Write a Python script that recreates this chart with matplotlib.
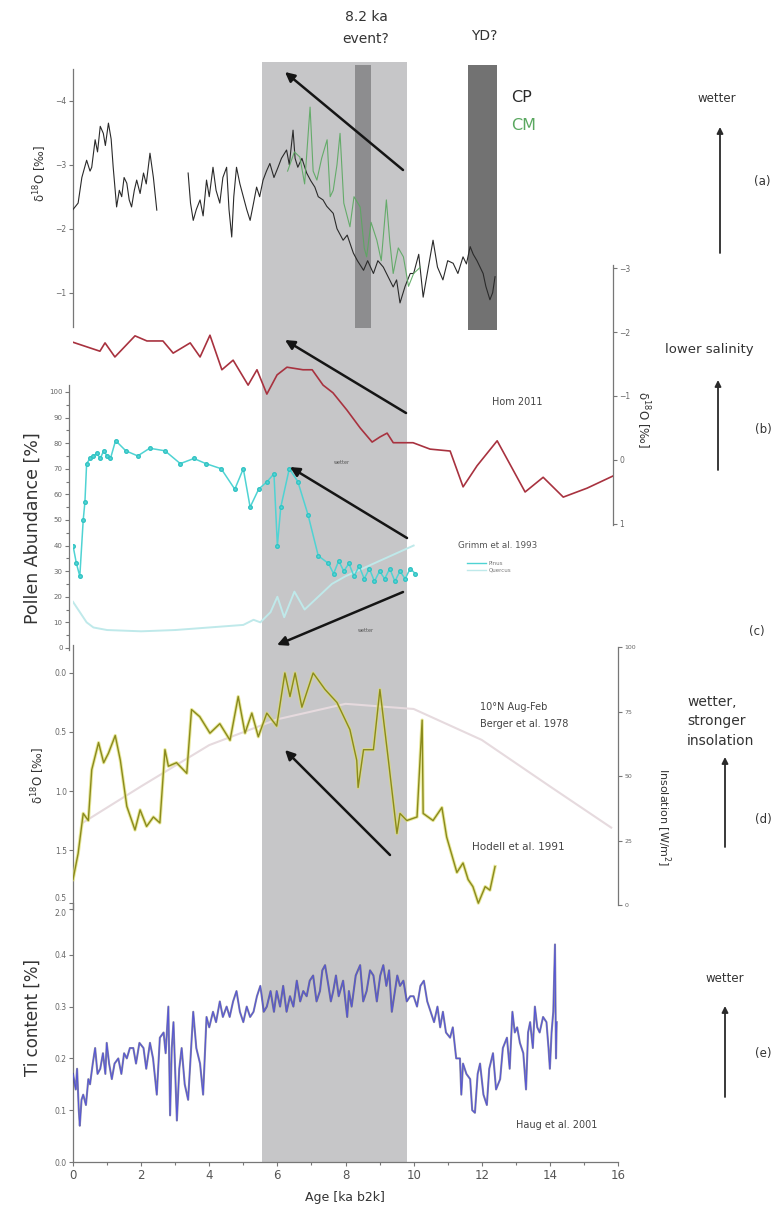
import matplotlib
matplotlib.use('Agg')
import matplotlib.pyplot as plt
import matplotlib.patheffects as pe
from matplotlib.lines import Line2D
import numpy as np

# ---------------- data ----------------
# (a) speleothem d18O
cp_age = [0.0, 0.15, 0.26, 0.4, 0.5, 0.55, 0.65, 0.72, 0.8, 0.89, 0.95, 1.04, 1.12, 1.18, 1.28, 1.36, 1.43, 1.5,
          1.58, 1.65, 1.72, 1.8, 1.87, 1.97, 2.07, 2.15, 2.26, 2.36, 2.46, 2.9,
          3.38, 3.45, 3.53, 3.62, 3.73, 3.82, 3.92, 4.0, 4.11, 4.2, 4.31, 4.4, 4.51, 4.58, 4.66, 4.72, 4.8, 4.9,
          5.0, 5.1, 5.2, 5.3, 5.39, 5.48, 5.58, 5.68, 5.78, 5.9, 6.02, 6.12, 6.27, 6.35, 6.46, 6.52, 6.6, 6.72,
          6.86, 6.98, 7.1, 7.2, 7.34, 7.45, 7.64, 7.75, 7.93, 8.05, 8.23, 8.35, 8.53, 8.65, 8.82, 8.95, 9.11,
          9.25, 9.4, 9.5, 9.6, 9.75, 9.9, 10.0, 10.15, 10.28, 10.4, 10.57, 10.7, 10.86, 11.0, 11.16, 11.3,
          11.45, 11.55, 11.66, 11.75, 11.86, 11.95, 12.04, 12.12, 12.24, 12.32, 12.39]
cp_d18o = [-2.3, -2.4, -2.8, -3.07, -2.9, -2.96, -3.39, -3.2, -3.6, -3.49, -3.3, -3.65, -3.4, -2.96, -2.34, -2.6,
           -2.5, -2.8, -2.71, -2.45, -2.34, -2.6, -2.76, -2.55, -2.87, -2.7, -3.18, -2.8, -2.29, np.nan,
           -2.87, -2.4, -2.13, -2.3, -2.45, -2.2, -2.76, -2.5, -2.96, -2.6, -2.4, -2.8, -2.96, -2.3, -1.87,
           -2.5, -2.96, -2.7, -2.5, -2.3, -2.13, -2.4, -2.65, -2.5, -2.76, -2.9, -3.02, -2.8, -2.96, -3.1,
           -3.23, -3.0, -3.54, -3.1, -2.96, -3.1, -2.87, -2.75, -2.65, -2.5, -2.45, -2.35, -2.24, -2.0, -1.82,
           -1.9, -1.62, -1.5, -1.35, -1.5, -1.3, -1.5, -1.4, -1.25, -1.09, -1.2, -0.84, -1.1, -1.3, -1.3, -1.6,
           -0.93, -1.3, -1.82, -1.4, -1.2, -1.5, -1.46, -1.3, -1.56, -1.45, -1.72, -1.6, -1.5, -1.4, -1.3,
           -1.1, -0.89, -1.0, -1.25]
cm_age = [6.3, 6.5, 6.66, 6.8, 6.96, 7.05, 7.16, 7.3, 7.46, 7.55, 7.64, 7.75, 7.84, 7.95, 8.13, 8.25, 8.43, 8.55,
          8.62, 8.75, 8.92, 9.05, 9.2, 9.3, 9.4, 9.55, 9.7, 9.85, 10.0, 10.2]
cm_d18o = [-2.9, -3.2, -3.12, -2.7, -3.9, -2.9, -2.76, -3.1, -3.39, -2.5, -2.6, -3.0, -3.49, -2.4, -2.03, -2.5,
           -2.34, -1.7, -1.56, -2.1, -1.82, -1.5, -2.45, -1.8, -1.3, -1.7, -1.56, -1.1, -1.3, -1.4]

# (b) Horn 2011
horn_age = [0.0, 0.79, 0.94, 1.23, 1.82, 2.17, 2.64, 2.94, 3.44, 3.73, 4.02, 4.37, 4.70, 5.14, 5.40, 5.69, 5.99,
            6.28, 6.75, 7.02, 7.34, 7.63, 8.04, 8.43, 8.78, 9.01, 9.22, 9.40, 9.98, 10.48, 11.07, 11.45, 11.86,
            12.45, 13.27, 13.80, 14.39, 15.09, 15.85]
horn_d18o = [-1.84, -1.70, -1.83, -1.61, -1.94, -1.86, -1.86, -1.67, -1.83, -1.61, -1.95, -1.41, -1.56, -1.17,
             -1.41, -1.03, -1.33, -1.45, -1.41, -1.41, -1.17, -1.05, -0.78, -0.50, -0.28, -0.36, -0.42, -0.27,
             -0.27, -0.17, -0.14, 0.42, 0.09, -0.30, 0.50, 0.27, 0.58, 0.44, 0.25]

# (c) Grimm et al. 1993 pollen
pinus_age = [0.0, 0.1, 0.2, 0.3, 0.35, 0.4, 0.5, 0.6, 0.7, 0.8, 0.9, 1.0, 1.1, 1.25, 1.55, 1.9, 2.25, 2.7, 3.15,
             3.55, 3.9, 4.35, 4.75, 5.0, 5.2, 5.45, 5.7, 5.9, 6.0, 6.1, 6.35, 6.6, 6.9, 7.2, 7.5, 7.65, 7.8, 7.95,
             8.1, 8.25, 8.4, 8.55, 8.7, 8.85, 9.0, 9.15, 9.3, 9.45, 9.6, 9.75, 9.9, 10.05]
pinus_pct = [40, 33, 28, 50, 57, 72, 74, 75, 76, 74, 77, 75, 74, 81, 77, 75, 78, 77, 72, 74, 72, 70, 62, 70, 55,
             62, 65, 68, 40, 55, 70, 65, 52, 36, 33, 29, 34, 30, 33, 28, 32, 27, 31, 26, 30, 27, 31, 26, 30, 27,
             31, 29]
quercus_age = [0.0, 0.2, 0.4, 0.6, 1.0, 2.0, 3.0, 4.0, 5.0, 5.3, 5.5, 5.8, 6.0, 6.2, 6.5, 6.8, 7.2, 7.6, 8.0,
               8.5, 9.0, 9.5, 10.0]
quercus_pct = [18, 14, 10, 8, 7, 6.5, 7, 8, 9, 11, 10, 14, 20, 12, 22, 15, 20, 25, 28, 31, 34, 37, 40]

# (d) Hodell et al. 1991 d18O and insolation
hodell_age = [0.0, 0.15, 0.3, 0.45, 0.55, 0.75, 0.9, 1.04, 1.24, 1.39, 1.58, 1.82, 1.97, 2.16, 2.36, 2.55, 2.7,
              2.8, 3.04, 3.34, 3.48, 3.72, 4.02, 4.31, 4.61, 4.85, 5.05, 5.25, 5.44, 5.69, 5.98, 6.22, 6.37,
              6.52, 6.72, 7.05, 7.4, 7.75, 8.13, 8.33, 8.37, 8.53, 8.82, 9.01, 9.26, 9.51, 9.6, 9.8, 10.1,
              10.25, 10.28, 10.57, 10.83, 10.97, 11.27, 11.45, 11.6, 11.74, 11.9, 12.1, 12.24, 12.39]
hodell_d18o = [1.75, 1.53, 1.19, 1.25, 0.82, 0.59, 0.76, 0.68, 0.53, 0.74, 1.13, 1.33, 1.16, 1.30, 1.22, 1.27,
               0.65, 0.79, 0.76, 0.85, 0.31, 0.37, 0.51, 0.43, 0.57, 0.20, 0.51, 0.34, 0.54, 0.34, 0.45, 0.0,
               0.2, 0.0, 0.29, 0.0, 0.14, 0.25, 0.48, 0.74, 0.97, 0.65, 0.65, 0.14, 0.74, 1.36, 1.19, 1.25, 1.22,
               0.40, 1.19, 1.25, 1.14, 1.39, 1.69, 1.61, 1.75, 1.81, 1.95, 1.81, 1.84, 1.64]
insol_age = [0.3, 2, 4, 6, 8, 10, 12, 14, 15.8]
insol_wm2 = [32, 46, 62, 72, 78, 76, 64, 46, 30]

# (e) Haug et al. 2001 Ti
ti_age = [0.00, 0.08, 0.12, 0.17, 0.20, 0.25, 0.30, 0.38, 0.45, 0.50, 0.58, 0.65, 0.72, 0.80, 0.88, 0.95, 0.99,
          1.06, 1.14, 1.22, 1.33, 1.42, 1.50, 1.58, 1.67, 1.77, 1.85, 1.95, 2.07, 2.15, 2.26, 2.35, 2.46, 2.55,
          2.66, 2.72, 2.80, 2.85, 2.90, 2.95, 3.05, 3.12, 3.19, 3.28, 3.38, 3.45, 3.53, 3.62, 3.73, 3.82, 3.92,
          4.00, 4.11, 4.20, 4.31, 4.40, 4.51, 4.60, 4.70, 4.80, 4.90, 5.00, 5.10, 5.20, 5.30, 5.40, 5.50, 5.60,
          5.69, 5.80, 5.90, 5.98, 6.08, 6.17, 6.27, 6.37, 6.47, 6.57, 6.67, 6.76, 6.86, 6.95, 7.05, 7.15, 7.25,
          7.32, 7.40, 7.50, 7.57, 7.64, 7.72, 7.80, 7.93, 8.05, 8.10, 8.18, 8.30, 8.43, 8.52, 8.62, 8.72, 8.82,
          8.92, 9.02, 9.11, 9.20, 9.28, 9.36, 9.45, 9.52, 9.60, 9.70, 9.80, 9.90, 10.00, 10.10, 10.20, 10.30,
          10.40, 10.50, 10.60, 10.70, 10.78, 10.86, 10.95, 11.07, 11.15, 11.25, 11.36, 11.40, 11.45, 11.55,
          11.66, 11.72, 11.80, 11.88, 11.95, 12.05, 12.15, 12.22, 12.33, 12.42, 12.54, 12.62, 12.74, 12.82,
          12.90, 12.97, 13.04, 13.12, 13.22, 13.30, 13.36, 13.42, 13.50, 13.56, 13.63, 13.70, 13.80, 13.90,
          13.96, 14.00, 14.05, 14.10, 14.15, 14.18, 14.20]
ti_pct = [0.17, 0.14, 0.18, 0.10, 0.07, 0.12, 0.13, 0.11, 0.16, 0.15, 0.19, 0.22, 0.17, 0.18, 0.21, 0.17, 0.23,
          0.19, 0.16, 0.19, 0.20, 0.17, 0.21, 0.20, 0.22, 0.22, 0.19, 0.23, 0.22, 0.18, 0.23, 0.20, 0.13, 0.24,
          0.25, 0.21, 0.30, 0.09, 0.22, 0.27, 0.08, 0.18, 0.22, 0.15, 0.12, 0.20, 0.29, 0.22, 0.19, 0.13, 0.28,
          0.26, 0.29, 0.27, 0.31, 0.28, 0.30, 0.28, 0.31, 0.33, 0.29, 0.27, 0.30, 0.28, 0.29, 0.32, 0.34, 0.29,
          0.30, 0.33, 0.29, 0.33, 0.30, 0.34, 0.29, 0.32, 0.30, 0.35, 0.31, 0.33, 0.32, 0.35, 0.36, 0.31, 0.33,
          0.37, 0.38, 0.34, 0.31, 0.33, 0.36, 0.32, 0.35, 0.28, 0.33, 0.30, 0.36, 0.38, 0.31, 0.33, 0.37, 0.36,
          0.31, 0.36, 0.38, 0.34, 0.37, 0.29, 0.33, 0.36, 0.34, 0.35, 0.31, 0.32, 0.32, 0.30, 0.34, 0.35, 0.31,
          0.29, 0.27, 0.30, 0.26, 0.29, 0.25, 0.24, 0.26, 0.20, 0.20, 0.13, 0.19, 0.17, 0.16, 0.10, 0.095, 0.17,
          0.19, 0.13, 0.11, 0.18, 0.21, 0.14, 0.16, 0.22, 0.24, 0.18, 0.29, 0.25, 0.26, 0.23, 0.21, 0.14, 0.25,
          0.27, 0.22, 0.30, 0.26, 0.25, 0.28, 0.27, 0.22, 0.18, 0.25, 0.29, 0.42, 0.20, 0.27]

# shaded intervals (ka)
main_band = (5.55, 9.8)
event82_band = (8.28, 8.75)
yd_band = (11.6, 12.45)

age_ticks = [0, 2, 4, 6, 8, 10, 12, 14, 16]

# ---------------- layout helpers ----------------
W, H = 779, 1209
fig = plt.figure(figsize=(W / 100, H / 100), dpi=100)

def rect(x0, y0, x1, y1):
    return [x0 / W, 1 - y1 / H, (x1 - x0) / W, (y1 - y0) / H]

SP = '#777777'
TK = '#666666'

def style_axis(ax, side='left', ticksize=5.5):
    ax.set_facecolor('none')
    for s in ['top', 'right', 'left', 'bottom']:
        ax.spines[s].set_visible(False)
    ax.spines[side].set_visible(True)
    ax.spines[side].set_color(SP)
    ax.spines[side].set_linewidth(0.9)
    ax.tick_params(axis='y', which='both', colors=SP, labelcolor=TK, labelsize=ticksize, length=3, width=0.8,
                   left=(side == 'left'), right=(side == 'right'),
                   labelleft=(side == 'left'), labelright=(side == 'right'), pad=1.5)
    ax.tick_params(axis='x', which='both', bottom=False, labelbottom=False)

# background band axis
ax_band = fig.add_axes(rect(73, 62, 618, 1162))
ax_band.set_xlim(0, 16)
ax_band.axvspan(*main_band, color='#c6c6c8', lw=0)
ax_band.axis('off')
ax_band.set_zorder(0)

# (a)
ax_a = fig.add_axes(rect(73, 62, 618, 330))
ax_a.set_xlim(0, 16)
ax_a.set_ylim(-0.417, -4.605)
ax_a.axvspan(*event82_band, ymin=0.008, ymax=0.99, color='#8d8d8f', lw=0, zorder=1)
ax_a.axvspan(*yd_band, ymin=-0.01, ymax=0.99, color='#727272', lw=0, zorder=1)
ax_a.plot(cp_age, cp_d18o, color='#2a2a2a', lw=0.8, zorder=3)
ax_a.plot(cm_age, cm_d18o, color='#5aa860', lw=0.8, alpha=0.9, zorder=4)
style_axis(ax_a, 'left')
ax_a.set_yticks([-4, -3, -2, -1])
ax_a.spines['left'].set_bounds(-4.5, -0.46)
ax_a.set_zorder(2)

# (b)
ax_b = fig.add_axes(rect(73, 262, 613, 530))
ax_b.set_xlim(0, 15.85)
ax_b.set_ylim(1.094, -3.094)
ax_b.plot(horn_age, horn_d18o, color='#a8323f', lw=1.2, zorder=3)
style_axis(ax_b, 'right')
ax_b.set_yticks([-3, -2, -1, 0, 1])
ax_b.spines['right'].set_bounds(-3.05, 1.02)
ax_b.set_zorder(3)

# (c)
ax_c = fig.add_axes(rect(73, 385, 618, 650))
ax_c.set_xlim(0, 16)
ax_c.set_ylim(-0.8, 102.7)
ax_c.plot(quercus_age, quercus_pct, color='#bfe9ea', lw=1.4, zorder=3)
ax_c.plot(pinus_age, pinus_pct, color='#4fd3d3', lw=1.1, marker='o', ms=2.6, mec='#33c3c3', mfc='#55d6d6',
          zorder=4)
style_axis(ax_c, 'left', ticksize=5)
ax_c.spines['left'].set_position(('outward', 3))
ax_c.set_yticks(np.arange(0, 101, 10))
ax_c.set_yticks(np.arange(5, 100, 10), minor=True)
ax_c.tick_params(axis='y', which='minor', length=2)
ax_c.set_zorder(4)
hp = Line2D([], [], color='#4fd3d3', lw=1)
hq = Line2D([], [], color='#bfe9ea', lw=1)
leg = ax_c.legend([hp, hq], ['Pinus', 'Quercus'], fontsize=4, frameon=False, handlelength=3.5,
                  handletextpad=0.4, labelspacing=0.3, loc='upper left',
                  bbox_to_anchor=(462 / W, 1 - 556 / H), bbox_transform=fig.transFigure)
for t in leg.get_texts():
    t.set_color('#777777')

# (d)
ax_d = fig.add_axes(rect(73, 645, 618, 910))
ax_d.set_xlim(0, 16)
ax_d.set_ylim(2.008, -0.237)
ax_d2 = ax_d.twinx()
ax_d2.set_ylim(-1.94, 100.8)
ax_d2.plot(insol_age, insol_wm2, color='#e6dade', lw=1.5, zorder=2)
ax_d.plot(hodell_age, hodell_d18o, color='#8a8a1c', lw=1.0, zorder=3,
          path_effects=[pe.Stroke(linewidth=2.4, foreground='#dede70', alpha=0.7), pe.Normal()])
style_axis(ax_d, 'left')
ax_d.set_yticks([0.0, 0.5, 1.0, 1.5, 2.0])
ax_d.yaxis.set_major_formatter(matplotlib.ticker.FormatStrFormatter('%.1f'))
style_axis(ax_d2, 'right', ticksize=4.5)
ax_d2.set_yticks([0, 25, 50, 75, 100])
ax_d2.spines['right'].set_bounds(0, 100)
ax_d.set_zorder(6)
ax_d2.set_zorder(5)

# (e)
ax_e = fig.add_axes(rect(73, 903, 618, 1162))
ax_e.set_xlim(0, 16)
ax_e.set_ylim(0, 0.5)
ax_e.plot(ti_age, ti_pct, color='#5555d8', lw=0.7, zorder=3,
          path_effects=[pe.Stroke(linewidth=1.5, foreground='#3a3a6a', alpha=0.6), pe.Normal()])
style_axis(ax_e, 'left')
ax_e.spines['bottom'].set_visible(True)
ax_e.spines['bottom'].set_color(SP)
ax_e.spines['bottom'].set_linewidth(0.9)
ax_e.set_yticks([0.0, 0.1, 0.2, 0.3, 0.4, 0.5])
ax_e.yaxis.set_major_formatter(matplotlib.ticker.FormatStrFormatter('%.1f'))
ax_e.set_xticks(age_ticks)
ax_e.set_xticks(np.arange(1, 16, 2), minor=True)
ax_e.tick_params(axis='x', which='both', bottom=True, labelbottom=True, colors=SP, labelcolor='#555555',
                 labelsize=8.5, length=3, width=0.8, pad=2)
ax_e.tick_params(axis='x', which='minor', length=2)
ax_e.set_zorder(7)

# stacked end labels at the d/e junction: 0.5 (e) sits just above 2.0 (d)
fig.canvas.draw()
ax_d.get_yticklabels()[-1].set_va('top')
ax_e.get_yticklabels()[-1].set_va('bottom')

# ---------------- overlay: texts and arrows ----------------
ov = fig.add_axes([0, 0, 1, 1])
ov.set_xlim(0, W)
ov.set_ylim(H, 0)
ov.axis('off')
ov.set_zorder(20)
ov.patch.set_alpha(0)

TC = '#333333'

def arrow(head, tail, lw=1.8, ms=14, color='#151515'):
    ov.annotate('', xy=head, xytext=tail,
                arrowprops=dict(arrowstyle='-|>', lw=lw, color=color, mutation_scale=ms,
                                shrinkA=0, shrinkB=0))

# diagonal arrows
arrow((285, 72), (403, 170))
arrow((285, 340), (406, 413))
arrow((290, 467), (407, 538))
arrow((277, 645), (403, 592))
arrow((285, 750), (390, 855))

# right-hand vertical arrows
arrow((720, 127), (720, 253), lw=1.3, ms=9, color='#2a2a2a')
arrow((718, 380), (718, 470), lw=1.3, ms=9, color='#2a2a2a')
arrow((725, 757), (725, 847), lw=1.3, ms=9, color='#2a2a2a')
arrow((725, 1006), (725, 1097), lw=1.3, ms=9, color='#2a2a2a')

ov.text(366, 17, '8.2 ka', ha='center', va='center', fontsize=10, color=TC)
ov.text(366, 39, 'event?', ha='center', va='center', fontsize=10, color=TC)
ov.text(484, 36, 'YD?', ha='center', va='center', fontsize=10, color=TC)
ov.text(511, 97, 'CP', ha='left', va='center', fontsize=11.5, color='#2a2a2a')
ov.text(511, 125, 'CM', ha='left', va='center', fontsize=11.5, color='#5aa860')

ov.text(717, 98, 'wetter', ha='center', va='center', fontsize=8.5, color=TC)
ov.text(762, 182, '(a)', ha='center', va='center', fontsize=8.5, color=TC)
ov.text(665, 349, 'lower salinity', ha='left', va='center', fontsize=9.5, color=TC)
ov.text(763, 430, '(b)', ha='center', va='center', fontsize=8.5, color=TC)
ov.text(517, 402, 'Hom 2011', ha='center', va='center', fontsize=7, color='#444444')
ov.text(757, 631, '(c)', ha='center', va='center', fontsize=8.5, color=TC)
ov.text(458, 545, 'Grimm et al. 1993', ha='left', va='center', fontsize=6.3, color='#555555')
ov.text(342, 462, 'wetter', ha='center', va='center', fontsize=3.5, color='#555555')
ov.text(366, 630, 'wetter', ha='center', va='center', fontsize=3.5, color='#555555')

ov.text(480, 707, '10°N Aug-Feb', ha='left', va='center', fontsize=7, color='#444444')
ov.text(480, 724, 'Berger et al. 1978', ha='left', va='center', fontsize=7, color='#444444')
ov.text(472, 847, 'Hodell et al. 1991', ha='left', va='center', fontsize=7.5, color='#444444')
ov.text(687, 702, 'wetter,', ha='left', va='center', fontsize=10, color=TC)
ov.text(687, 721, 'stronger', ha='left', va='center', fontsize=10, color=TC)
ov.text(687, 741, 'insolation', ha='left', va='center', fontsize=10, color=TC)
ov.text(763, 820, '(d)', ha='center', va='center', fontsize=8.5, color=TC)

ov.text(725, 978, 'wetter', ha='center', va='center', fontsize=8.5, color=TC)
ov.text(763, 1053, '(e)', ha='center', va='center', fontsize=8.5, color=TC)
ov.text(557, 1125, 'Haug et al. 2001', ha='center', va='center', fontsize=7, color='#444444')

# axis labels
ov.text(40, 173, 'δ$^{18}$O [‰]', rotation=90, ha='center', va='center', fontsize=8.5, color=TC)
ov.text(643, 420, 'δ$^{18}$O [‰]', rotation=270, ha='center', va='center', fontsize=8.5, color=TC)
ov.text(33, 528, 'Pollen Abundance [%]', rotation=90, ha='center', va='center', fontsize=12.5, color=TC)
ov.text(38, 775, 'δ$^{18}$O [‰]', rotation=90, ha='center', va='center', fontsize=8.5, color=TC)
ov.text(663, 817, 'Insolation [W/m$^2$]', rotation=270, ha='center', va='center', fontsize=8, color=TC)
ov.text(33, 1018, 'Ti content [%]', rotation=90, ha='center', va='center', fontsize=12, color=TC)
ov.text(345, 1198, 'Age [ka b2k]', ha='center', va='center', fontsize=9, color=TC)

fig.savefig('out.png', dpi=100)
